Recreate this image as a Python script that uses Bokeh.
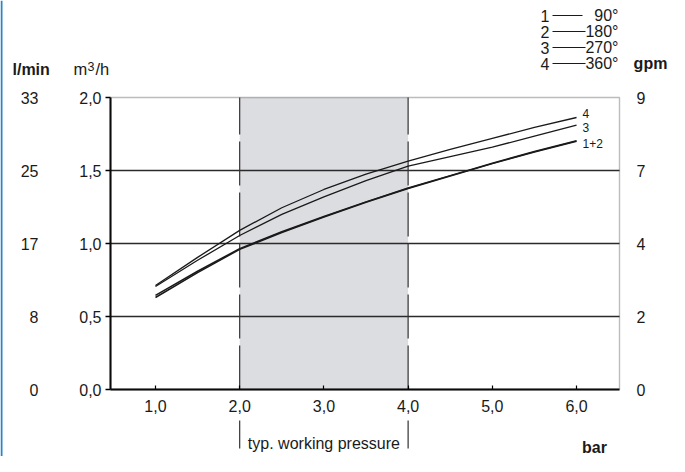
from bokeh.plotting import figure
from bokeh.models import (Range1d, Label, BoxAnnotation, LinearAxis,
                          CustomJSTickFormatter, FixedTicker)
from bokeh.embed import file_html
from bokeh.resources import INLINE

# ---------------- data ----------------
pressure = [1.0, 1.5, 2.0, 2.5, 3.0, 3.5, 4.0, 4.5, 5.0, 5.5, 6.0]          # bar
flow_90  = [0.645, 0.81, 0.965, 1.08, 1.185, 1.285, 1.38, 1.465, 1.55, 1.63, 1.704]   # m3/h
flow_180 = [0.630, 0.80, 0.960, 1.075, 1.182, 1.282, 1.377, 1.462, 1.547, 1.627, 1.700]
flow_270 = [0.705, 0.885, 1.055, 1.20, 1.32, 1.43, 1.53, 1.595, 1.66, 1.735, 1.81]
flow_360 = [0.712, 0.905, 1.09, 1.245, 1.37, 1.475, 1.565, 1.645, 1.72, 1.795, 1.863]

curve_tags = ["1+2", "3", "4"]
legend_keys = ["1", "2", "3", "4"]
legend_angles = ["90°", "180°", "270°", "360°"]

flow_ticks = [0.0, 0.5, 1.0, 1.5, 2.0]
lmin_labels = ["0", "8", "17", "25", "33"]
gpm_labels = ["0", "2", "4", "7", "9"]
bar_ticks = [1.0, 2.0, 3.0, 4.0, 5.0, 6.0]
working_range = [2.0, 4.0]

# ---------------- geometry (pixels of the picture) ----------------
X0, X1 = 0.466, 6.51          # bar range of the plot area
Y0, Y1 = 0.0, 2.0             # m3/h range of the plot area
W, H = 669, 456
FL, FR, FT, FB = 110, 619, 97, 389   # plot area edges in pixels
FONT = "Liberation Sans"
FS = "16px"
INK = "#1a1a1a"


def xd(px):
    return X0 + (px - FL) * (X1 - X0) / (FR - FL)


def yd(py):
    return Y1 - (py - FT) * (Y1 - Y0) / (FB - FT)


p = figure(width=W, height=H, x_range=Range1d(xd(0), xd(W)),
           y_range=Range1d(yd(H), yd(0)), min_border=0,
           min_border_left=0, min_border_right=0, min_border_top=0,
           min_border_bottom=0, output_backend="svg", toolbar_location=None,
           background_fill_color="white", border_fill_color="white")
p.outline_line_color = None
p.grid.visible = False

# page edge stripe
p.segment(x0=[xd(1)], y0=[yd(0)], x1=[xd(1)], y1=[yd(H)],
          line_color="#2a84c6", line_width=2)

# band of typical working pressure
p.add_layout(BoxAnnotation(left=working_range[0], right=working_range[1],
                           bottom=Y0, top=Y1, fill_color="#dcdde0", fill_alpha=1.0,
                           line_color=None, level="image"))

# horizontal grid lines
grid_y = flow_ticks[1:-1]
p.segment(x0=[X0] * len(grid_y), y0=grid_y, x1=[X1] * len(grid_y), y1=grid_y,
          line_color="#2a2a2a", line_width=1.6)

# dashed boundaries of the working range
n = len(working_range)
p.segment(x0=working_range, y0=[Y0] * n, x1=working_range, y1=[Y1] * n,
          line_color="#333333", line_width=1.2, line_dash="44 7")
p.segment(x0=working_range, y0=[yd(420)] * n, x1=working_range, y1=[yd(470)] * n,
          line_color="#333333", line_width=1.2, line_dash="28 9")

# plot area outline (top / right)
p.add_layout(BoxAnnotation(left=X0, right=X1, bottom=Y0, top=Y1, fill_color=None,
                           fill_alpha=0, line_color="#222222", line_width=1.4))

# curves
for ys, lw in ((flow_90, 1.5), (flow_180, 1.5), (flow_270, 1.3), (flow_360, 1.3)):
    p.line(pressure, ys, line_color=INK, line_width=lw, line_join="round")

fmt = CustomJSTickFormatter(code="return tick.toFixed(1).replace('.', ',')")


def lookup(labels):
    return CustomJSTickFormatter(
        args=dict(tvals=flow_ticks, tlabels=labels),
        code="const i = tvals.findIndex(t => Math.abs(t - tick) < 1e-6);"
             "return i >= 0 ? tlabels[i] : '';")


# main left axis (m3/h)
ya = p.yaxis[0]
ya.fixed_location = X0
ya.bounds = (Y0, Y1)
ya.ticker = FixedTicker(ticks=flow_ticks)
ya.formatter = fmt
ya.axis_line_color = "black"
ya.axis_line_width = 2
ya.major_tick_out = 5
ya.major_tick_in = 0
ya.major_tick_line_color = "black"
ya.major_tick_line_width = 1.5
ya.minor_tick_line_color = None
ya.major_label_standoff = 4
ya.major_label_text_font = FONT
ya.major_label_text_font_size = FS
ya.major_label_text_color = INK

# bottom axis (bar)
xa = p.xaxis[0]
xa.fixed_location = Y0
xa.bounds = (X0, X1)
xa.ticker = FixedTicker(ticks=bar_ticks)
xa.formatter = fmt
xa.axis_line_color = "black"
xa.axis_line_width = 2
xa.major_tick_out = 0
xa.major_tick_in = 4
xa.major_tick_line_color = "black"
xa.major_tick_line_width = 1.2
xa.minor_tick_line_color = None
xa.major_label_standoff = 10
xa.major_label_text_font = FONT
xa.major_label_text_font_size = FS
xa.major_label_text_color = INK


def side_axis(loc, labels, standoff, side):
    ax = LinearAxis(fixed_location=loc, bounds=(Y0, Y1),
                    ticker=FixedTicker(ticks=flow_ticks), formatter=lookup(labels),
                    axis_line_color=None, major_tick_line_color=None,
                    minor_tick_line_color=None, major_tick_out=0, major_tick_in=0,
                    major_label_standoff=standoff, major_label_text_font=FONT,
                    major_label_text_font_size=FS, major_label_text_color=INK)
    p.add_layout(ax, side)


side_axis(xd(38), lmin_labels, 0, "left")     # l/min
side_axis(X1, gpm_labels, 17, "right")        # gpm

# curve end labels
for tag, ys, dy in ((curve_tags[0], flow_90, -3), (curve_tags[1], flow_270, -2),
                    (curve_tags[2], flow_360, 4)):
    p.add_layout(Label(x=pressure[-1], y=ys[-1], x_offset=6, y_offset=dy, text=tag,
                       text_align="left", text_baseline="middle", text_font=FONT,
                       text_font_size="12px", text_color=INK))


def lab(text, px, py, align="left", size=FS, bold=False, baseline="middle"):
    p.add_layout(Label(x=xd(px), y=yd(py), text=text, text_align=align,
                       text_baseline=baseline, text_font=FONT, text_font_size=size,
                       text_font_style="bold" if bold else "normal", text_color=INK))


# unit titles
lab("l/min", 12, 68.5, size="16px", bold=True, baseline="alphabetic")
lab("m", 73, 68.5, size="16.5px", baseline="alphabetic")
lab("3", 87, 66, size="12.5px", baseline="alphabetic")
lab("/h", 95, 68.5, size="16.5px", baseline="alphabetic")
lab("gpm", 650, 63, align="center", bold=True)
lab("bar", 594, 447, align="center", bold=True)
p.add_layout(Label(x=sum(working_range) / 2, y=yd(443), text="typ. working pressure",
                   text_align="center", text_baseline="middle", text_font=FONT,
                   text_font_size=FS, text_color=INK))

# legend of sector angles
row_y = [15, 31, 47, 63]
line_end = [582, 585, 585, 585]
p.segment(x0=[xd(552)] * 4, y0=[yd(r) for r in row_y],
          x1=[xd(e) for e in line_end], y1=[yd(r) for r in row_y],
          line_color=INK, line_width=1.1)
for i, (k, a) in enumerate(zip(legend_keys, legend_angles)):
    lab(k, 549, row_y[i], align="right")
    lab(a, 618, row_y[i], align="right")

open("out.html", "w").write(file_html(p, INLINE))
